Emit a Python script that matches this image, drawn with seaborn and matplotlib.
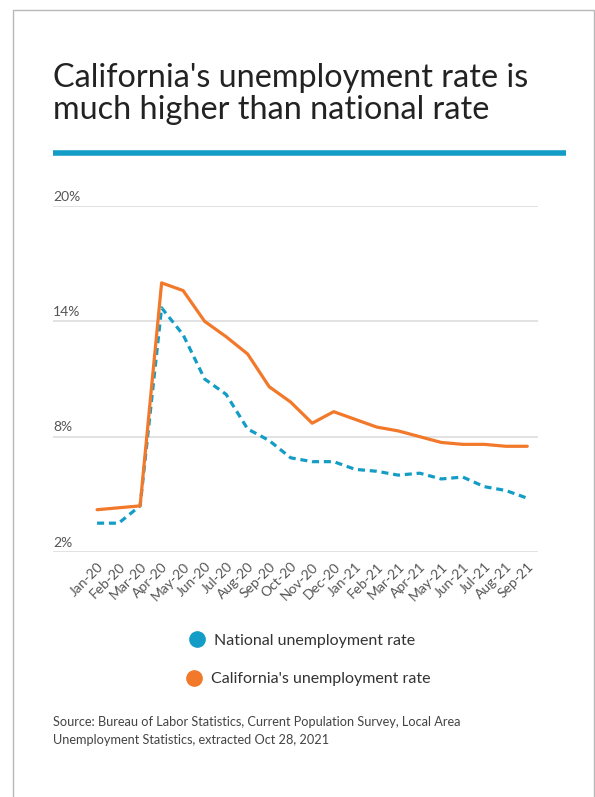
import matplotlib
matplotlib.use("Agg")
import matplotlib.pyplot as plt
import matplotlib.patches as patches
from matplotlib.lines import Line2D
import pandas as pd
import seaborn as sns

months = ["Jan-20", "Feb-20", "Mar-20", "Apr-20", "May-20", "Jun-20", "Jul-20",
          "Aug-20", "Sep-20", "Oct-20", "Nov-20", "Dec-20", "Jan-21", "Feb-21",
          "Mar-21", "Apr-21", "May-21", "Jun-21", "Jul-21", "Aug-21", "Sep-21"]
national = [3.5, 3.5, 4.4, 14.7, 13.3, 11.0, 10.2, 8.4, 7.8, 6.9, 6.7, 6.7,
            6.3, 6.2, 6.0, 6.1, 5.8, 5.9, 5.4, 5.2, 4.8]
california = [4.2, 4.3, 4.4, 16.0, 15.6, 14.0, 13.2, 12.3, 10.6, 9.8, 8.7, 9.3,
              8.9, 8.5, 8.3, 8.0, 7.7, 7.6, 7.6, 7.5, 7.5]
y_ticks = [2, 8, 14, 20]
y_labels = ["2%", "8%", "14%", "20%"]

blue = "#139dc6"
orange = "#f2782a"

df = pd.DataFrame({"month": months, "National": national, "California": california})

sns.set_theme(style="white")
plt.rcParams["font.family"] = ["Lato", "DejaVu Sans"]

W, H = 595, 797
fig = plt.figure(figsize=(W / 100, H / 100), dpi=100)

def fx(x):
    return x / W

def fy(y):
    return 1 - y / H

# card border
fig.patches.append(patches.Rectangle((fx(13), fy(830)), fx(594) - fx(13), fy(10) - fy(830),
                                     transform=fig.transFigure, fill=False,
                                     edgecolor="#b8b8b8", linewidth=1))

fig.text(fx(53), fy(87), "California's unemployment rate is", fontsize=23.3,
         color="#222222", va="baseline", ha="left")
fig.text(fx(53), fy(119), "much higher than national rate", fontsize=23.3,
         color="#222222", va="baseline", ha="left")
fig.add_artist(Line2D([fx(53), fx(566)], [fy(153), fy(153)], transform=fig.transFigure,
                      color=blue, linewidth=4, solid_capstyle="butt"))

ax = fig.add_axes([fx(53), fy(552), fx(538) - fx(53), fy(206) - fy(552)])
sns.lineplot(data=df, x="month", y="National", ax=ax, color=blue, linewidth=2.3,
             linestyle=(0, (2.2, 1.5)), sort=False)
sns.lineplot(data=df, x="month", y="California", ax=ax, color=orange, linewidth=2.3,
             sort=False)
for ln in ax.lines:
    ln.set_clip_on(False)

ax.set_xlim(-2.05, 20.5)
ax.set_ylim(2, 20)
ax.set_yticks(y_ticks)
ax.set_yticklabels([])
ax.tick_params(axis="y", length=0)
ax.grid(axis="y", color="#dddddd", linewidth=1.2)
ax.grid(axis="x", visible=False)
for s in ax.spines.values():
    s.set_visible(False)
ax.set_xlabel("")
ax.set_ylabel("")
for v, lab in zip(y_ticks, y_labels):
    ax.text(0, v + 0.18, lab, transform=ax.get_yaxis_transform(), ha="left",
            va="bottom", fontsize=10, color="#555555")

ax.set_xticks(range(len(months)))
ax.set_xticklabels(months, rotation=45, ha="right", rotation_mode="anchor",
                   fontsize=10, color="#555555")
ax.tick_params(axis="x", length=0, pad=6)

h_nat = Line2D([], [], marker="o", linestyle="", markersize=11, color=blue)
h_ca = Line2D([], [], marker="o", linestyle="", markersize=11, color=orange)
leg1 = fig.legend(handles=[h_nat], labels=["National unemployment rate"], loc="center",
                  bbox_to_anchor=(fx(300), fy(641)), frameon=False, fontsize=11.5,
                  handletextpad=0.3, handlelength=1.5, labelcolor="#333333")
fig.legend(handles=[h_ca], labels=["California's unemployment rate"], loc="center",
           bbox_to_anchor=(fx(306), fy(679)), frameon=False, fontsize=11.5,
           handletextpad=0.3, handlelength=1.5, labelcolor="#333333")

fig.text(fx(53), fy(731),
         "Source: Bureau of Labor Statistics, Current Population Survey, Local Area\n"
         "Unemployment Statistics, extracted Oct 28, 2021",
         fontsize=9.2, color="#444444", ha="left", va="center", linespacing=1.6)

fig.savefig("out.png", dpi=100)
